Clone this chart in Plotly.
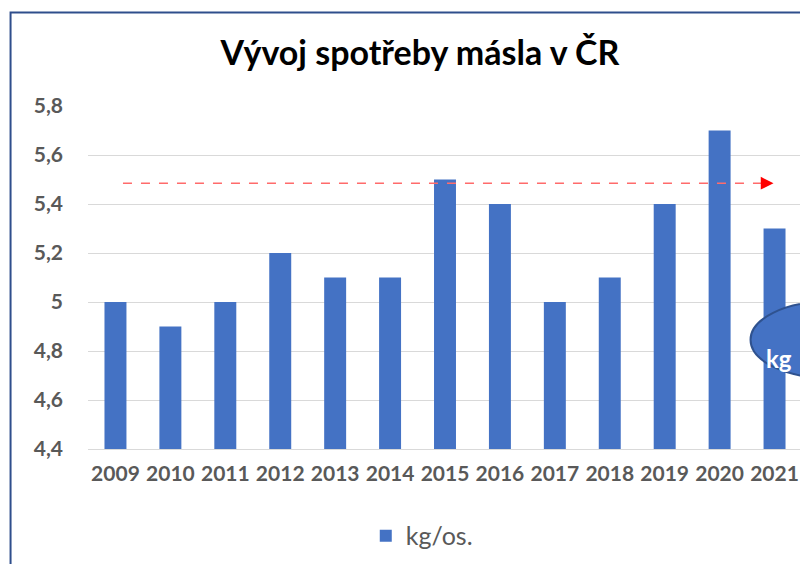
import plotly.graph_objects as go

# data
years = ["2009", "2010", "2011", "2012", "2013", "2014", "2015",
         "2016", "2017", "2018", "2019", "2020", "2021"]
kg_per_person = [5.0, 4.9, 5.0, 5.2, 5.1, 5.1, 5.5, 5.4, 5.0, 5.1, 5.4, 5.7, 5.3]
trend_level = 5.485

# figure sits at (8, 8) in the page because of the body margin
OFF = 8
W, H = 800, 556
L, R, T, B = 80, 5.5, 98, 111
pw, ph = W - L - R, H - T - B


def px(x):
    # page pixel x -> paper x
    return (x - OFF - L) / pw


def py(y):
    # page pixel y -> paper y
    return (H - B - (y - OFF)) / ph


fig = go.Figure()
fig.add_trace(go.Bar(x=years, y=kg_per_person, name="kg/os.",
                     marker=dict(color="#4472C4", line=dict(width=0))))

shapes = [
    # outer frame of the chart
    dict(type="rect", xref="paper", yref="paper",
         x0=px(10.5), x1=px(850), y0=py(11.5), y1=py(620),
         line=dict(color="#2F4E8C", width=2), fillcolor="rgba(0,0,0,0)", layer="above"),
    # dashed red line
    dict(type="line", xref="paper", yref="y",
         x0=px(123), x1=px(762), y0=trend_level, y1=trend_level,
         line=dict(color="#FF6B6B", width=1.5, dash="dash")),
    # ellipse callout at right edge
    dict(type="circle", xref="paper", yref="paper",
         x0=px(751), x1=px(905), y0=py(381), y1=py(304),
         fillcolor="#4472C4", line=dict(color="#2F528F", width=2), layer="above"),
]

annotations = [
    dict(xref="paper", yref="y", x=px(774), y=trend_level,
         ax=-14, ay=0, axref="pixel", ayref="pixel",
         showarrow=True, arrowhead=2, arrowsize=1.7, arrowwidth=1.5,
         arrowcolor="#FF0000", text=""),
    dict(xref="paper", yref="paper", x=px(764), y=py(361), xanchor="left",
         yanchor="middle", showarrow=False, text="<b>kg</b>",
         font=dict(family="Lato", size=24, color="white")),
]

fig.update_layout(
    width=W, height=H,
    margin=dict(l=L, r=R, t=T, b=B),
    paper_bgcolor="white", plot_bgcolor="white",
    separators=", ",
    font=dict(family="Lato", color="#595959"),
    title=dict(text="<b>Vývoj spotřeby másla v ČR</b>", x=(420 - OFF) / W, xanchor="center",
               y=1 - (53 - OFF) / H, yanchor="middle",
               font=dict(family="Lato", size=34, color="black")),
    bargap=0.6,
    showlegend=True,
    legend=dict(orientation="h", x=px(422), xanchor="center", y=py(541), yanchor="middle",
                font=dict(family="Lato", size=25, color="#595959"), itemwidth=30),
    xaxis=dict(showgrid=False, showline=True, linecolor="#D9D9D9", linewidth=1,
               ticks="", tickfont=dict(family="Lato", size=21, color="#595959", weight="bold"),
               ticklabelstandoff=6),
    yaxis=dict(range=[4.4, 5.8], dtick=0.2, showgrid=True, gridcolor="#D9D9D9",
               gridwidth=1, zeroline=False, showline=False,
               tickfont=dict(family="Lato", size=21, color="#595959", weight="bold"),
               ticklabelstandoff=24),
    shapes=shapes,
    annotations=annotations,
)

fig.write_html("out.html")
